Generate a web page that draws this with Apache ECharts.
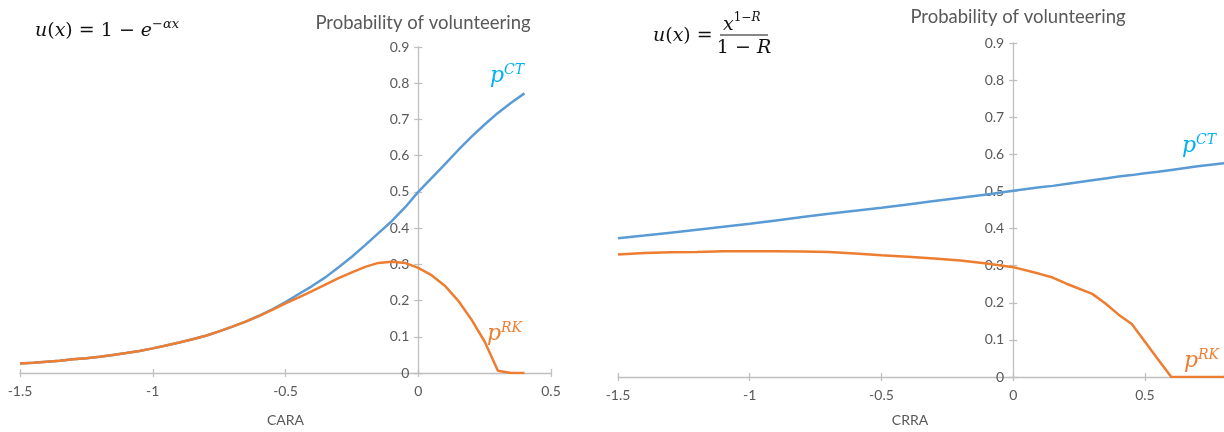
<!DOCTYPE html>
<html>
<head>
<meta charset="utf-8">
<script src="https://cdn.jsdelivr.net/npm/echarts@6/dist/echarts.min.js"></script>
<style>
html,body{margin:0;padding:0;background:#fff;}
#chart{width:1224px;height:432px;}
</style>
</head>
<body>
<div id="chart"></div>
<script>
// ---- data ----
const leftX = [-1.5,-1.45,-1.4,-1.35,-1.3,-1.25,-1.2,-1.15,-1.1,-1.05,-1,-0.95,-0.9,-0.85,-0.8,-0.75,-0.7,-0.65,-0.6,-0.55,-0.5,-0.45,-0.4,-0.35,-0.3,-0.25,-0.2,-0.15,-0.1,-0.05,0,0.05,0.1,0.15,0.2,0.25,0.3,0.35,0.4];
const leftCT = [0.026,0.028,0.031,0.034,0.038,0.041,0.045,0.050,0.055,0.061,0.068,0.076,0.084,0.093,0.103,0.115,0.128,0.142,0.158,0.176,0.196,0.218,0.240,0.264,0.292,0.321,0.353,0.386,0.419,0.457,0.500,0.538,0.576,0.615,0.652,0.686,0.718,0.746,0.772];
const leftRK = [0.026,0.028,0.031,0.034,0.038,0.041,0.045,0.050,0.055,0.061,0.068,0.076,0.084,0.093,0.103,0.115,0.128,0.142,0.157,0.174,0.192,0.209,0.226,0.244,0.262,0.278,0.293,0.304,0.307,0.304,0.290,0.270,0.241,0.200,0.148,0.087,0.006,0,0];

const rightX = [-1.5,-1.4,-1.3,-1.2,-1.1,-1,-0.9,-0.8,-0.7,-0.6,-0.5,-0.4,-0.3,-0.2,-0.1,0,0.1,0.15,0.2,0.3,0.35,0.4,0.45,0.5,0.55,0.6,0.7,0.8];
const rightCT = [0.374,0.381,0.389,0.397,0.405,0.413,0.422,0.431,0.440,0.448,0.456,0.465,0.474,0.483,0.492,0.502,0.511,0.515,0.520,0.530,0.535,0.540,0.544,0.549,0.553,0.558,0.568,0.576];
const rightRK = [0.330,0.334,0.336,0.337,0.339,0.339,0.339,0.338,0.337,0.333,0.328,0.324,0.319,0.314,0.306,0.296,0.278,0.268,0.252,0.224,0.198,0.168,0.143,0.095,0.047,0,0,0];

const axisNames = ['CARA', 'CRRA'];
const chartTitle = 'Probability of volunteering';

// ---- styles / layout ----
const BLUE = '#5B9BD5', ORANGE = '#ED7D31', CYAN = '#00B0F0';
const GRAY = '#BFBFBF', TXT = '#595959';
const UI = 'Lato, "Open Sans", sans-serif';
const MATH = '"DejaVu Serif", serif';

const grids = [
  {left:20, top:47, width:531, height:334, xmin:-1.5, xmax:0.5},
  {left:618, top:43, width:606, height:339.5, xmin:-1.5, xmax:0.8}
];
// pixel distance from grid's left edge to x = 0, so the y axis crosses there
function zeroOffset(g){ return -(0 - g.xmin) / (g.xmax - g.xmin) * g.width; }

function pairs(xs, ys){ return xs.map((x,i)=>[x, ys[i]]); }

// main axes carry labels + outside ticks; "dup" axes add inside ticks (Excel-style cross ticks)
function xAxisOf(idx, name, nameGap, namePad, dup){
  const g = grids[idx];
  return {
    type:'value', gridIndex: idx, min:g.xmin, max:g.xmax, interval:0.5, position:'bottom',
    name: dup ? '' : name, nameLocation:'middle', nameGap:nameGap,
    nameTextStyle:{color:TXT, fontFamily:UI, fontSize:14, padding:namePad},
    axisLine:{show:!dup, onZero:false, lineStyle:{color:GRAY, width:1.3}},
    axisTick:{show:true, inside:!!dup, length:4, lineStyle:{color:GRAY, width:1.3}},
    axisLabel:{show:!dup, color:TXT, fontFamily:UI, fontSize:14, margin:11, showMaxLabel: g.xmax===0.5},
    splitLine:{show:false}
  };
}
function yAxisOf(idx, dup){
  return {
    type:'value', gridIndex: idx, min:0, max:0.9, interval:0.1,
    position:'left', offset: zeroOffset(grids[idx]),
    axisLine:{show:!dup, onZero:false, lineStyle:{color:GRAY, width:1.3}},
    axisTick:{show:true, inside:!!dup, length:4, lineStyle:{color:GRAY, width:1.3}},
    axisLabel:{show:!dup, color:TXT, fontFamily:UI, fontSize:14, margin:9},
    splitLine:{show:false}
  };
}
function lineSeries(idx, data, color, z){
  return {type:'line', xAxisIndex:idx, yAxisIndex:idx, data:data, showSymbol:false, symbol:'none',
    lineStyle:{color:color, width:2.5}, itemStyle:{color:color}, z:z, silent:true};
}

const mainRich = {
  i:{fontFamily:MATH, fontStyle:'italic', fontSize:19, lineHeight:26, fill:'#111'},
  r:{fontFamily:MATH, fontSize:19, lineHeight:26, fill:'#111'},
  s:{fontFamily:MATH, fontStyle:'italic', fontSize:13, lineHeight:8, verticalAlign:'top', fill:'#111'},
  sr:{fontFamily:MATH, fontSize:13, lineHeight:8, verticalAlign:'top', fill:'#111'}
};
function pRich(color){
  return {
    p:{fontFamily:MATH, fontStyle:'italic', fontSize:22, lineHeight:26, fill:color},
    s:{fontFamily:MATH, fontStyle:'italic', fontSize:14, lineHeight:14, verticalAlign:'top', fill:color}
  };
}

const chart = echarts.init(document.getElementById('chart'), null, {renderer:'canvas'});
chart.setOption({
  animation:false,
  backgroundColor:'#fff',
  grid: grids.map(g => ({left:g.left, top:g.top, width:g.width, height:g.height, containLabel:false})),
  xAxis:[ xAxisOf(0, axisNames[0], 40, [0,0,0,0]), xAxisOf(1, axisNames[1], 36, [0,22,0,0]),
          xAxisOf(0, '', 40, [0,0,0,0], true), xAxisOf(1, '', 36, [0,0,0,0], true) ],
  yAxis:[ yAxisOf(0), yAxisOf(1), yAxisOf(0, true), yAxisOf(1, true) ],
  series:[
    lineSeries(0, pairs(leftX, leftCT), BLUE, 2),
    lineSeries(0, pairs(leftX, leftRK), ORANGE, 3),
    lineSeries(1, pairs(rightX, rightCT), BLUE, 2),
    lineSeries(1, pairs(rightX, rightRK), ORANGE, 3)
  ],
  graphic:[
    {type:'text', x:423, y:23, style:{text:chartTitle, fill:TXT, font:'18.5px '+UI, align:'center', verticalAlign:'middle'}},
    {type:'text', x:1018, y:17, style:{text:chartTitle, fill:TXT, font:'18.5px '+UI, align:'center', verticalAlign:'middle'}},
    // left formula
    {type:'text', x:35, y:31, style:{text:'{i|u}{r|(}{i|x}{r|) = 1 − }{i|e}{sr|−}{s|αx}', rich:mainRich, verticalAlign:'middle'}},
    // right formula
    {type:'text', x:653, y:36, style:{text:'{i|u}{r|(}{i|x}{r|) =}', rich:mainRich, verticalAlign:'middle'}},
    {type:'text', x:723, y:25, style:{text:'{i|x}{sr|1−}{s|R}', rich:{
      i:{fontFamily:MATH, fontStyle:'italic', fontSize:19, lineHeight:26, fill:'#111'},
      s:{fontFamily:MATH, fontStyle:'italic', fontSize:12, lineHeight:6, verticalAlign:'top', fill:'#111'},
      sr:{fontFamily:MATH, fontSize:12, lineHeight:6, verticalAlign:'top', fill:'#111'}
    }, verticalAlign:'middle'}},
    {type:'line', shape:{x1:720, y1:35, x2:768, y2:35}, style:{stroke:'#111', lineWidth:1.2}},
    {type:'text', x:744, y:48, style:{text:'{r|1 − }{i|R}', rich:mainRich, align:'center', verticalAlign:'middle'}},
    // curve labels
    {type:'text', x:490, y:76, style:{text:'{p|p}{s|CT}', rich:pRich(CYAN), verticalAlign:'middle'}},
    {type:'text', x:487, y:334, style:{text:'{p|p}{s|RK}', rich:pRich(ORANGE), verticalAlign:'middle'}},
    {type:'text', x:1182, y:146, style:{text:'{p|p}{s|CT}', rich:pRich(CYAN), verticalAlign:'middle'}},
    {type:'text', x:1184, y:361, style:{text:'{p|p}{s|RK}', rich:pRich(ORANGE), verticalAlign:'middle'}}
  ]
});
</script>
</body>
</html>
